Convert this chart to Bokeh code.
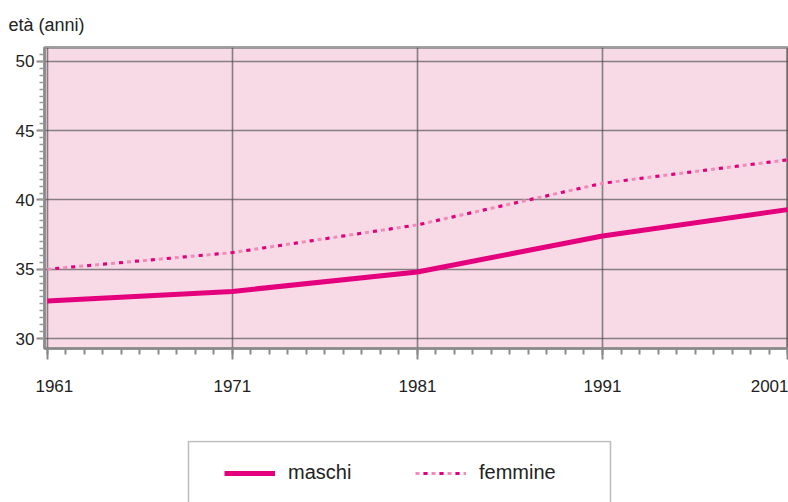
from bokeh.plotting import figure
from bokeh.models import (Range1d, FixedTicker, Legend, LegendItem, BoxAnnotation)
from bokeh.layouts import column
from bokeh.embed import file_html
from bokeh.resources import INLINE

# ---- data ----
years = [1961, 1971, 1981, 1991, 2001]
maschi = [32.7, 33.4, 34.8, 37.4, 39.3]
femmine = [35.0, 36.2, 38.2, 41.2, 42.9]
y_ticks = [30, 35, 40, 45, 50]
x_tick_labels = ["1961", "1971", "1981", "1991", "2001"]
y_title = "età (anni)"
series_names = ["maschi", "femmine"]

MAGENTA = "#E4007C"
LIGHT = "#F08CB9"
FONT = "Liberation Sans"
TXT = "#222222"
NB = "\u00a0"

p = figure(width=788, height=440, output_backend="svg", toolbar_location=None,
           x_range=Range1d(1960.85, 2001.05), y_range=Range1d(29.28, 51.0),
           min_border_left=44, min_border_right=0, min_border_top=46, min_border_bottom=92)
p.background_fill_color = "#F8DAE6"
p.border_fill_color = "white"
p.outline_line_color = "#8a8a8a"
p.outline_line_width = 3
p.outline_line_alpha = 0.8

# title
p.title.text = y_title
p.title.align = "left"
p.title.offset = -36
p.title.text_font = FONT
p.title.text_font_size = "18px"
p.title.text_font_style = "normal"
p.title.text_color = TXT
p.title.standoff = 25

# grid
p.xgrid.ticker = FixedTicker(ticks=years)
p.ygrid.ticker = FixedTicker(ticks=y_ticks)
for g in (p.xgrid, p.ygrid):
    g.grid_line_color = "#555555"
    g.grid_line_alpha = 0.7
    g.grid_line_width = 1.6

# x axis
xa = p.xaxis[0]
xa.ticker = FixedTicker(ticks=years, minor_ticks=list(range(1961, 2002)))
overrides = {y: t for y, t in zip(years, x_tick_labels)}
overrides[years[0]] = NB * 3 + x_tick_labels[0]
xa.major_label_overrides = overrides
xa.major_label_text_font = FONT
xa.major_label_text_font_size = "17px"
xa.major_label_text_color = TXT
xa.major_label_standoff = 17
xa.axis_line_color = "#8a8a8a"
xa.axis_line_width = 2
xa.major_tick_line_color = "#8a8a8a"
xa.minor_tick_line_color = "#8a8a8a"
xa.major_tick_line_width = 2
xa.minor_tick_line_width = 2
xa.major_tick_out = 11
xa.major_tick_in = 0
xa.minor_tick_out = 6
xa.minor_tick_in = 0

# y axis
ya = p.yaxis[0]
ya.ticker = FixedTicker(ticks=y_ticks, minor_ticks=[30 + 0.5 * i for i in range(42)])
ya.major_label_text_font = FONT
ya.major_label_text_font_size = "17px"
ya.major_label_text_color = TXT
ya.major_label_standoff = 2
ya.axis_line_color = "#8a8a8a"
ya.axis_line_width = 2
ya.major_tick_line_color = "#8a8a8a"
ya.minor_tick_line_color = "#9a9a9a"
ya.major_tick_line_width = 2
ya.minor_tick_line_width = 1.5
ya.major_tick_out = 8
ya.major_tick_in = 0
ya.minor_tick_out = 5
ya.minor_tick_in = 0


def draw_series(fig):
    r_m = fig.line(years, maschi, line_color=MAGENTA, line_width=5, line_join="round")
    r_f1 = fig.line(years, femmine, line_color=LIGHT, line_width=3, line_dash="4 4")
    r_f2 = fig.line(years, femmine, line_color=MAGENTA, line_width=3, line_dash="4 12",
                    line_dash_offset=8)
    return r_m, r_f1, r_f2


draw_series(p)

# ---- legend strip (frame aligned with main frame: left edge at 44 px) ----
q = figure(width=788, height=62, output_backend="svg", toolbar_location=None,
           x_range=Range1d(0, 1), y_range=Range1d(0, 1),
           min_border_left=0, min_border_right=0, min_border_top=0, min_border_bottom=0)
q.axis.visible = False
q.grid.visible = False
q.outline_line_color = None
q.background_fill_color = "white"
q.border_fill_color = "white"
lm, lf1, lf2 = draw_series(q)  # series lie outside this strip's ranges; used for legend glyphs

q.add_layout(BoxAnnotation(left=144, right=566, top=61, bottom=-40,
                           left_units="screen", right_units="screen",
                           top_units="screen", bottom_units="screen",
                           fill_color="white", fill_alpha=1.0,
                           line_color="#222222", line_width=1.5))

legend = Legend(items=[LegendItem(label=series_names[0], renderers=[lm]),
                       LegendItem(label=series_names[1], renderers=[lf1, lf2])],
                location=(180, 18), orientation="horizontal",
                glyph_width=51, glyph_height=20, label_standoff=13,
                label_width=95, spacing=32, padding=0, margin=0,
                border_line_alpha=0, background_fill_alpha=0,
                label_text_font=FONT, label_text_font_size="20px",
                label_text_color=TXT)
q.add_layout(legend, "center")

layout = column(p, q, spacing=0)
open("out.html", "w").write(file_html(layout, INLINE))
